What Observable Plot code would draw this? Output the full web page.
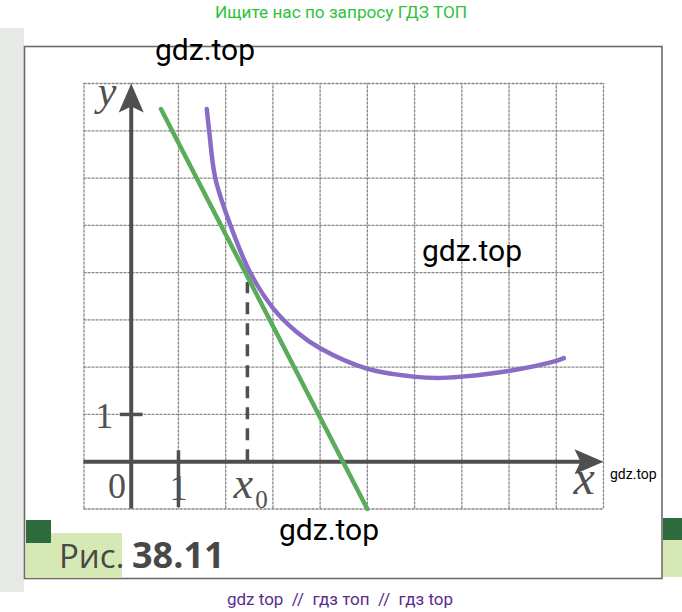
<!DOCTYPE html>
<html>
<head>
<meta charset="utf-8">
<script src="https://cdn.jsdelivr.net/npm/d3@7"></script>
<script src="https://cdn.jsdelivr.net/npm/@observablehq/plot@0.6"></script>
<style>
  html, body { margin: 0; padding: 0; background: #fff; }
  #wrap { position: relative; width: 682px; height: 612px; overflow: hidden; background: #fff; }
  #wrap > svg, #wrap > div { position: absolute; left: 0; top: 0; }
  #chart svg { display: block; }
  .wm { font-family: Roboto, sans-serif; fill: #000; }
</style>
</head>
<body>
<div id="wrap">
  <svg id="under" width="682" height="612">
    <rect x="0" y="28" width="24" height="564" fill="#e6e9e6"/>
    <rect x="24.5" y="46.5" width="637.5" height="532" fill="#fff" stroke="#6b6b6b" stroke-width="1.6"/>
    <rect x="663" y="518" width="19" height="22" fill="#2d6b3c"/>
    <rect x="663" y="540" width="19" height="37" fill="#d6e9b4"/>
    <rect x="26" y="533" width="96" height="45" fill="#d6e9b4"/>
    <rect x="26" y="520" width="25" height="23" fill="#2d6b3c"/>
    <text x="59" y="568" font-family="Open Sans" font-size="33" fill="#484848">Рис.</text>
    <text x="132" y="568" font-family="Open Sans" font-weight="700" font-size="36" fill="#484848">38.11</text>
  </svg>
  <div id="chart"></div>
  <svg id="over" width="682" height="612">
    <text x="341" y="18" text-anchor="middle" font-family="Roboto" font-size="17.2" fill="#2ec23a">Ищите нас по запросу ГДЗ ТОП</text>
    <text class="wm" x="155" y="60" font-size="30">gdz.top</text>
    <text class="wm" x="422" y="261" font-size="30">gdz.top</text>
    <text class="wm" x="279" y="540" font-size="30">gdz.top</text>
    <text class="wm" x="610" y="479" font-size="14">gdz.top</text>
    <text x="340" y="605" text-anchor="middle" font-family="Roboto" font-size="17" fill="#5a2d8c" style="white-space:pre">gdz top  //  гдз топ  //  гдз top</text>
  </svg>
</div>
<script>
// ---- data ----
const gridX = [-1, 0, 1, 2, 3, 4, 5, 6, 7, 8, 9, 10];
const gridY = [-1, 0, 1, 2, 3, 4, 5, 6, 7, 8];

// purple curve y = f(x)
const curveX = [1.60, 1.65, 1.78, 2.10, 2.53, 3.01, 3.51, 4.00, 4.99, 5.98, 6.48, 7.00, 7.99, 9.02, 9.16];
const curveY = [7.46, 7.00, 6.00, 5.00, 3.98, 3.24, 2.74, 2.40, 1.97, 1.80, 1.77, 1.80, 1.92, 2.14, 2.19];

// green tangent line
const tangentX = [0.63, 5.00];
const tangentY = [7.46, -1.00];

// tangent point
const x0 = 2.46;
const y0 = 3.79;

// axis extents
const axisXStart = -1, axisXEnd = 10;
const axisYStart = -1, axisYEnd = 8;

// tick marks
const xTickValue = 1, yTickValue = 1;

// labels
const labelTexts = ["0", "1", "1"];
const labelX = [-0.30, 1.0, -0.57];
const labelY = [-0.76, -0.80, 0.72];

const curve = curveX.map((x, i) => ({x, y: curveY[i]}));
const tangent = tangentX.map((x, i) => ({x, y: tangentY[i]}));
const labels = labelTexts.map((t, i) => ({t, x: labelX[i], y: labelY[i]}));

const axisColor = "#4f4f4f";
const textColor = "#505050";

const arrowSymbol = {
  draw(ctx) {
    ctx.moveTo(0, 0);
    ctx.lineTo(-12.5, 29);
    ctx.lineTo(0, 23);
    ctx.lineTo(12.5, 29);
    ctx.closePath();
  }
};

const chart = Plot.plot({
  width: 682,
  height: 612,
  marginLeft: 83.5,
  marginRight: 79,
  marginTop: 83,
  marginBottom: 103.5,
  x: {domain: [axisXStart, axisXEnd], axis: null},
  y: {domain: [axisYStart, axisYEnd], axis: null},
  style: {background: "transparent", overflow: "visible"},
  marks: [
    // grid
    Plot.ruleX(gridX, {x: d => d, y1: axisYStart, y2: axisYEnd, stroke: "#868686", strokeWidth: 1.3, strokeDasharray: "3,1"}),
    Plot.ruleY(gridY, {y: d => d, x1: axisXStart, x2: axisXEnd, stroke: "#868686", strokeWidth: 1.3, strokeDasharray: "3,1"}),
    // axes
    Plot.ruleY([0], {x1: axisXStart, x2: axisXEnd - 0.4, stroke: axisColor, strokeWidth: 4}),
    Plot.ruleX([0], {y1: axisYStart, y2: axisYEnd - 0.4, stroke: axisColor, strokeWidth: 4}),
    Plot.dot([{x: 0, y: axisYEnd}], {x: "x", y: "y", symbol: arrowSymbol, fill: axisColor, stroke: "none", r: 10}),
    Plot.dot([{x: axisXEnd, y: 0}], {x: "x", y: "y", symbol: arrowSymbol, rotate: 90, fill: axisColor, stroke: "none", r: 10}),
    // ticks
    Plot.ruleX([xTickValue], {x: d => d, y1: 0.23, y2: -0.97, stroke: axisColor, strokeWidth: 3.5}),
    Plot.ruleY([yTickValue], {y: d => d, x1: -0.23, x2: 0.25, stroke: axisColor, strokeWidth: 3.5}),
    // dashed x0
    Plot.ruleX([x0], {x: d => d, y1: 0, y2: y0, stroke: axisColor, strokeWidth: 3.5, strokeDasharray: "12,9"}),
    // tangent line
    Plot.line(tangent, {x: "x", y: "y", stroke: "#5aab5a", strokeWidth: 4.5}),
    // curve
    Plot.line(curve, {x: "x", y: "y", curve: "catmull-rom", stroke: "#8a6cc4", strokeWidth: 4.5}),
    // labels
    Plot.text(labels, {x: "x", y: "y", text: "t", fontFamily: "Liberation Serif", fontSize: 36, fill: textColor, lineAnchor: "bottom", textAnchor: "middle"}),
    Plot.text([{x: -0.51, y: 7.55}], {x: "x", y: "y", text: () => "y", fontFamily: "Liberation Serif", fontStyle: "italic", fontSize: 42, fill: textColor, lineAnchor: "bottom", textAnchor: "middle"}),
    Plot.text([{x: 9.59, y: -0.68}], {x: "x", y: "y", text: () => "x", fontFamily: "Liberation Serif", fontStyle: "italic", fontSize: 48, fill: textColor, lineAnchor: "bottom", textAnchor: "middle"}),
    Plot.text([{x: 2.37, y: -0.76}], {x: "x", y: "y", text: () => "x", fontFamily: "Liberation Serif", fontStyle: "italic", fontSize: 44, fill: textColor, lineAnchor: "bottom", textAnchor: "middle"}),
    Plot.text([{x: 2.76, y: -0.97}], {x: "x", y: "y", text: () => "0", fontFamily: "Liberation Serif", fontSize: 25, fill: textColor, lineAnchor: "bottom", textAnchor: "middle"})
  ]
});
document.getElementById("chart").appendChild(chart);
</script>
</body>
</html>
